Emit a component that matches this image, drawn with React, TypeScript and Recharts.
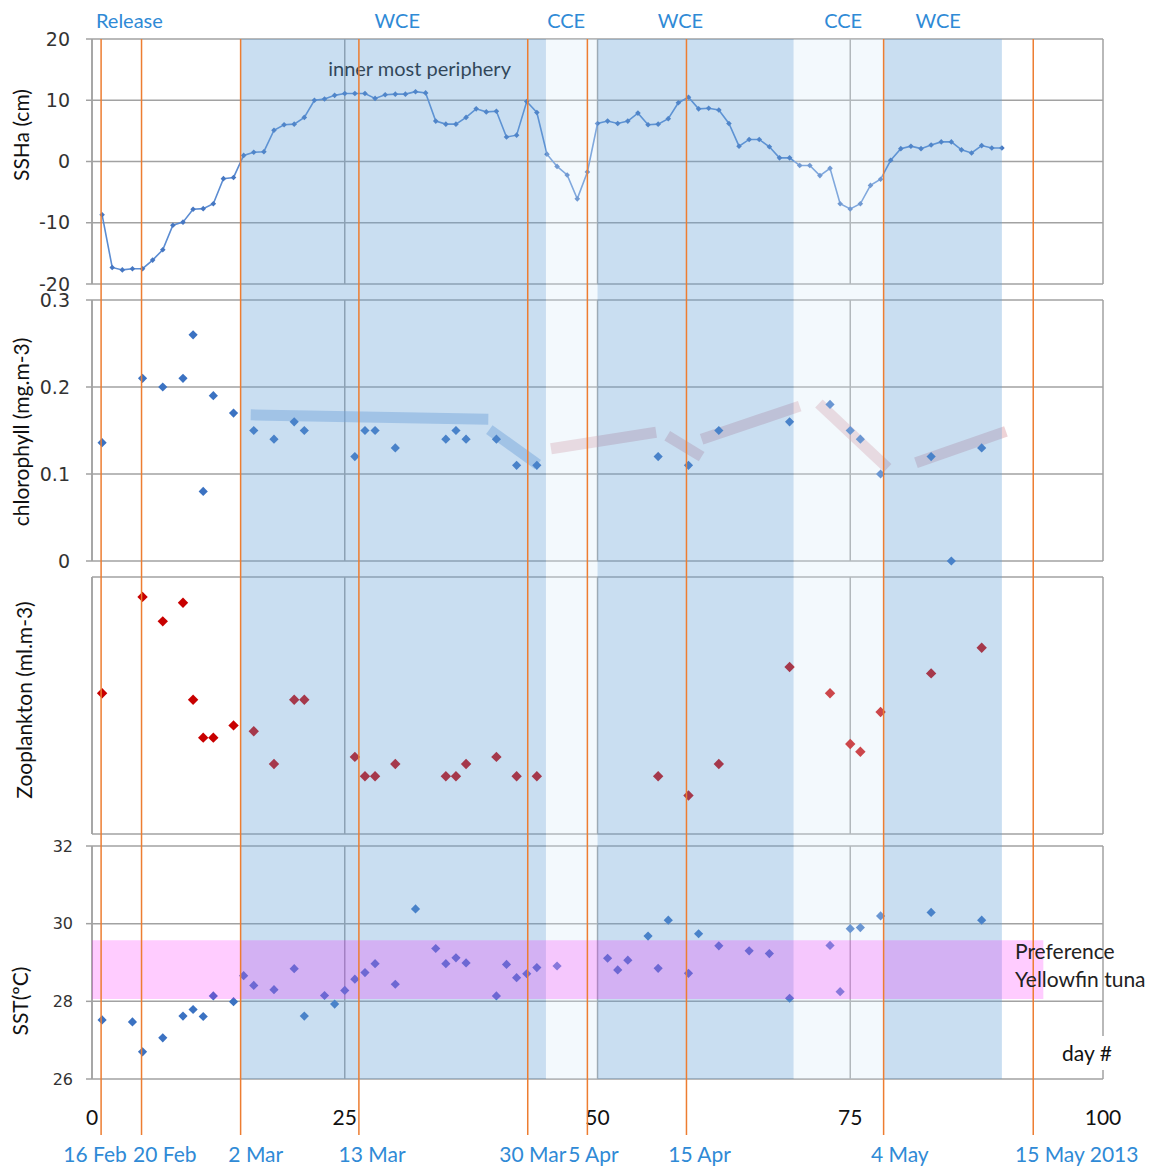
import React from 'react';
import {
  CartesianGrid,
  ComposedChart,
  Line,
  ReferenceArea,
  ReferenceDot,
  ReferenceLine,
  Scatter,
  ScatterChart,
  XAxis,
  YAxis,
} from 'recharts';

const WIDTH = 1151;
const HEIGHT = 1168;
const AXIS_W = 92;
const RIGHT = 48;

const DAY_DOMAIN: [number, number] = [0, 100];
const dayTicks = [0, 25, 50, 75, 100];

// SSHa (cm), one reading a day starting at day 1
const sshaFirstDay = 1;
const sshaValues = [
  -8.7, -17.3, -17.7, -17.5, -17.5, -16.1, -14.4, -10.4, -9.9, -7.8,
  -7.7, -6.9, -2.8, -2.6, 1.0, 1.5, 1.6, 5.1, 6.0, 6.1,
  7.2, 10.0, 10.2, 10.8, 11.1, 11.1, 11.1, 10.3, 10.9, 11.0,
  11.0, 11.4, 11.2, 6.6, 6.1, 6.1, 7.2, 8.6, 8.1, 8.2,
  4.0, 4.3, 9.8, 8.0, 1.2, -0.8, -2.2, -6.1, -1.7, 6.2,
  6.6, 6.2, 6.6, 7.9, 6.0, 6.1, 7.0, 9.6, 10.5, 8.6,
  8.7, 8.4, 6.2, 2.5, 3.6, 3.6, 2.4, 0.6, 0.6, -0.65,
  -0.65, -2.3, -1.1, -6.9, -7.75, -6.9, -3.9, -2.9, 0.2, 2.1,
  2.5, 2.1, 2.7, 3.2, 3.2, 1.9, 1.4, 2.6, 2.2, 2.2,
];

// chlorophyll (mg.m-3)
const chlDays = [1, 5, 7, 9, 10, 11, 12, 14, 16, 18, 20, 21, 26, 27, 28, 30, 35, 36, 37, 40, 42, 44, 56, 59, 62, 69, 73, 75, 76, 78, 83, 85, 88];
const chlValues = [0.136, 0.21, 0.2, 0.21, 0.26, 0.08, 0.19, 0.17, 0.15, 0.14, 0.16, 0.15, 0.12, 0.15, 0.15, 0.13, 0.14, 0.15, 0.14, 0.14, 0.11, 0.11, 0.12, 0.11, 0.15, 0.16, 0.18, 0.15, 0.14, 0.1, 0.12, 0.0, 0.13];

// trend bars drawn over the chlorophyll points
const chlTrends = [
  { x1: 15.7, y1: 0.168, x2: 39.2, y2: 0.163, tone: 'blue' },
  { x1: 39.3, y1: 0.151, x2: 44.1, y2: 0.111, tone: 'blue' },
  { x1: 45.4, y1: 0.129, x2: 55.8, y2: 0.148, tone: 'pink' },
  { x1: 56.9, y1: 0.144, x2: 60.3, y2: 0.12, tone: 'pink' },
  { x1: 60.3, y1: 0.14, x2: 70.0, y2: 0.178, tone: 'pink' },
  { x1: 71.9, y1: 0.181, x2: 78.7, y2: 0.107, tone: 'pink' },
  { x1: 81.5, y1: 0.113, x2: 90.4, y2: 0.149, tone: 'pink' },
];

// zooplankton (no scale printed, plotted on 0..4 grid units)
const zooDays = [1, 5, 7, 9, 10, 11, 12, 14, 16, 18, 20, 21, 26, 27, 28, 30, 35, 36, 37, 40, 42, 44, 56, 59, 62, 69, 73, 75, 76, 78, 83, 88];
const zooValues = [2.19, 3.69, 3.31, 3.6, 2.09, 1.5, 1.5, 1.69, 1.6, 1.09, 2.09, 2.09, 1.2, 0.9, 0.9, 1.09, 0.9, 0.9, 1.09, 1.2, 0.9, 0.9, 0.9, 0.6, 1.09, 2.6, 2.19, 1.4, 1.28, 1.9, 2.5, 2.9];

// SST (ºC)
const sstDays = [1, 4, 5, 7, 9, 10, 11, 12, 14, 15, 16, 18, 20, 21, 23, 24, 25, 26, 27, 28, 30, 32, 34, 35, 36, 37, 40, 41, 42, 43, 44, 46, 51, 52, 53, 55, 56, 57, 59, 60, 62, 65, 67, 69, 73, 74, 75, 76, 78, 83, 88];
const sstValues = [
  27.52, 27.47, 26.7, 27.06, 27.62, 27.79, 27.61, 28.14, 27.99,
  28.66, 28.41, 28.3, 28.84, 27.62,
  28.15, 27.93, 28.28, 28.57, 28.74, 28.97,
  28.44, 30.38, 29.36, 28.97, 29.12, 28.99,
  28.14, 28.95, 28.61, 28.71, 28.87, 28.91,
  29.11, 28.81, 29.06, 29.68, 28.85, 30.09,
  28.72, 29.74, 29.43, 29.3, 29.23, 28.08,
  29.44, 28.25, 29.87, 29.9, 30.2,
  30.29, 30.09,
];
const tunaRange = [28.06, 29.57];
const tunaRangeEndDay = 94.1;

// eddy periods and events
const eddySpans = [
  { from: 14.7, to: 44.9, kind: 'WCE' },
  { from: 44.9, to: 50.0, kind: 'CCE' },
  { from: 50.0, to: 69.4, kind: 'WCE' },
  { from: 69.4, to: 78.3, kind: 'CCE' },
  { from: 78.3, to: 90.0, kind: 'WCE' },
];
const eddyLabels = ['Release', 'WCE', 'CCE', 'WCE', 'CCE', 'WCE'];
const eddyLabelDays = [3.7, 30.2, 46.9, 58.2, 74.3, 83.7];
const eventDays = [0.9, 4.9, 14.7, 26.4, 43.1, 49.0, 58.8, 78.3, 93.1];
const dateLabels = ['16 Feb', '20 Feb', '2 Mar', '13 Mar', '30 Mar', '5 Apr', '15 Apr', '4 May', '15 May 2013'];
const dateLabelDays = [0.3, 7.2, 16.2, 27.7, 43.6, 49.6, 60.1, 79.9, 97.4];

const sshaData = sshaValues.map((v, i) => ({ day: sshaFirstDay + i, v }));
const chlData = chlDays.map((day, i) => ({ day, v: chlValues[i] }));
const zooData = zooDays.map((day, i) => ({ day, v: zooValues[i] }));
const sstData = sstDays.map((day, i) => ({ day, v: sstValues[i] }));
const eventData = eventDays.map((day) => ({ day, v: 0.5 }));

const GRID = '#a2a2a2';
const LABEL_BLUE = '#2f8ad6';
const FONT = 'Lato, "Open Sans", sans-serif';
const TICK_FONT = '"DejaVu Sans", Verdana, sans-serif';

const diamond = (r: number, fill: string) => (props: any) => {
  const { cx, cy } = props;
  if (cx == null || cy == null) return <g />;
  return <path d={`M${cx},${cy - r}L${cx + r},${cy}L${cx},${cy + r}L${cx - r},${cy}Z`} fill={fill} />;
};

const noMark = () => <g />;

const yTick = (size: number) => ({ fill: '#333', fontSize: size, fontFamily: TICK_FONT });

function SideLabel({ text, x, y }: { text: string; x: number; y: number }) {
  return (
    <div
      style={{
        position: 'absolute',
        left: x,
        top: y,
        transform: 'translate(-50%, -50%) rotate(-90deg)',
        whiteSpace: 'nowrap',
        font: `21px ${FONT}`,
        color: '#111',
      }}
    >
      {text}
    </div>
  );
}

const layer = (top: number): React.CSSProperties => ({ position: 'absolute', left: 0, top });

export default function App() {
  return (
    <div style={{ position: 'absolute', left: 0, top: 0, width: WIDTH, height: HEIGHT, background: '#fff' }}>
      {/* SSHa */}
      <div style={layer(29)}>
        <ComposedChart width={WIDTH} height={265} data={sshaData} margin={{ top: 10, right: RIGHT, bottom: 10, left: 0 }}>
          <CartesianGrid stroke={GRID} strokeWidth={1.5} />
          <XAxis type="number" dataKey="day" domain={DAY_DOMAIN} ticks={dayTicks} hide />
          <YAxis
            type="number"
            domain={[-20, 20]}
            ticks={[-20, -10, 0, 10, 20]}
            interval={0}
            width={AXIS_W}
            axisLine={{ stroke: GRID, strokeWidth: 1.5 }}
            tickLine={{ stroke: GRID, strokeWidth: 1.5 }}
            tickSize={6}
            tickMargin={16}
            tick={yTick(19)}
          />
          <ReferenceDot
            x={32.4}
            y={15.2}
            r={1}
            fill="none"
            stroke="none"
            label={{ value: 'inner most periphery', position: 'center', fill: '#151515', fontSize: 20, fontFamily: FONT }}
          />
          <Line
            type="linear"
            dataKey="v"
            stroke="#5b8cd2"
            strokeWidth={1.6}
            dot={diamond(2.8, '#4677c2')}
            isAnimationActive={false}
          />
        </ComposedChart>
      </div>

      {/* chlorophyll */}
      <div style={layer(290)}>
        <ScatterChart width={WIDTH} height={281} margin={{ top: 10, right: RIGHT, bottom: 10, left: 0 }}>
          <CartesianGrid stroke={GRID} strokeWidth={1.5} />
          <XAxis type="number" dataKey="day" domain={DAY_DOMAIN} ticks={dayTicks} hide />
          <YAxis
            type="number"
            dataKey="v"
            domain={[0, 0.3]}
            ticks={[0, 0.1, 0.2, 0.3]}
            interval={0}
            width={AXIS_W}
            axisLine={{ stroke: GRID, strokeWidth: 1.5 }}
            tickLine={{ stroke: GRID, strokeWidth: 1.5 }}
            tickSize={6}
            tickMargin={16}
            tick={yTick(19)}
          />
          {chlTrends.map((t, i) => (
            <ReferenceLine
              key={i}
              segment={[{ x: t.x1, y: t.y1 }, { x: t.x2, y: t.y2 }]}
              stroke={t.tone === 'blue' ? 'rgb(120,165,220)' : 'rgb(215,150,160)'}
              strokeOpacity={t.tone === 'blue' ? 0.45 : 0.42}
              strokeWidth={11}
              ifOverflow="visible"
            />
          ))}
          <Scatter data={chlData} shape={diamond(4.6, '#3b72c2')} isAnimationActive={false} />
        </ScatterChart>
      </div>

      {/* zooplankton */}
      <div style={layer(567)}>
        <ScatterChart width={WIDTH} height={277} margin={{ top: 10, right: RIGHT, bottom: 10, left: 0 }}>
          <CartesianGrid stroke={GRID} strokeWidth={1.5} />
          <XAxis type="number" dataKey="day" domain={DAY_DOMAIN} ticks={dayTicks} hide />
          <YAxis
            type="number"
            dataKey="v"
            domain={[0, 4]}
            ticks={[0, 1, 2, 3, 4]}
            width={AXIS_W}
            axisLine={{ stroke: GRID, strokeWidth: 1.5 }}
            tickLine={false}
            tick={false}
          />
          <Scatter data={zooData} shape={diamond(5.2, '#c80000')} isAnimationActive={false} />
        </ScatterChart>
      </div>

      {/* SST */}
      <div style={layer(836)}>
        <ScatterChart width={WIDTH} height={332} margin={{ top: 10, right: RIGHT, bottom: 39, left: 0 }}>
          <CartesianGrid stroke={GRID} strokeWidth={1.5} />
          <XAxis
            type="number"
            dataKey="day"
            domain={DAY_DOMAIN}
            ticks={dayTicks}
            height={50}
            axisLine={false}
            tickLine={false}
            tickSize={0}
            tickMargin={0}
            interval={0}
            tick={(p: any) => (
              <text x={p.x} y={p.y + 37} textAnchor="middle" dominantBaseline="central" fill="#111" fontSize={21} fontFamily={FONT}>
                {p.payload.value}
              </text>
            )}
          />
          <YAxis
            type="number"
            dataKey="v"
            domain={[26, 32]}
            ticks={[26, 28, 30, 32]}
            interval={0}
            width={AXIS_W}
            axisLine={{ stroke: GRID, strokeWidth: 1.5 }}
            tickLine={{ stroke: GRID, strokeWidth: 1.5 }}
            tickSize={6}
            tickMargin={13}
            tick={yTick(16)}
          />
          <Scatter data={sstData} shape={diamond(4.6, '#3b72c2')} isAnimationActive={false} />
        </ScatterChart>
      </div>

      {/* eddy shading laid over all panels */}
      <div style={layer(0)}>
        <ScatterChart width={WIDTH} height={HEIGHT} margin={{ top: 39, right: RIGHT, bottom: 89, left: AXIS_W }}>
          <XAxis type="number" dataKey="day" domain={DAY_DOMAIN} hide />
          <YAxis type="number" dataKey="v" domain={[0, 1]} hide />
          {eddySpans.map((s, i) => (
            <ReferenceArea
              key={i}
              x1={s.from}
              x2={s.to}
              stroke="none"
              fill={s.kind === 'WCE' ? 'rgb(100,160,215)' : 'rgb(215,235,248)'}
              fillOpacity={s.kind === 'WCE' ? 0.35 : 0.3}
              ifOverflow="visible"
            />
          ))}
          <Scatter data={eventData} shape={noMark} isAnimationActive={false} />
        </ScatterChart>
      </div>

      {/* yellowfin tuna preference band over the SST panel */}
      <div style={layer(836)}>
        <ScatterChart width={WIDTH} height={332} margin={{ top: 10, right: RIGHT, bottom: 89, left: AXIS_W }}>
          <XAxis type="number" dataKey="day" domain={DAY_DOMAIN} hide />
          <YAxis type="number" dataKey="v" domain={[26, 32]} hide />
          <ReferenceArea
            x1={0}
            x2={tunaRangeEndDay}
            y1={tunaRange[0]}
            y2={tunaRange[1]}
            stroke="none"
            fill="#ff00ff"
            fillOpacity={0.2}
            ifOverflow="visible"
          />
          <Scatter data={sstData} shape={noMark} isAnimationActive={false} />
        </ScatterChart>
      </div>

      {/* event lines, eddy names and dates */}
      <div style={layer(0)}>
        <ScatterChart width={WIDTH} height={HEIGHT} margin={{ top: 0, right: RIGHT, bottom: 0, left: AXIS_W }}>
          <XAxis
            xAxisId="top"
            orientation="top"
            type="number"
            dataKey="day"
            domain={DAY_DOMAIN}
            ticks={eddyLabelDays}
            interval={0}
            height={39}
            axisLine={false}
            tickLine={false}
            tickSize={0}
            tickMargin={0}
            tick={(p: any) => (
              <text x={p.x} y={p.y - 19} textAnchor="middle" dominantBaseline="central" fill={LABEL_BLUE} fontSize={20} fontFamily={FONT}>
                {eddyLabels[eddyLabelDays.indexOf(p.payload.value)]}
              </text>
            )}
          />
          <XAxis
            xAxisId="bottom"
            orientation="bottom"
            type="number"
            dataKey="day"
            domain={DAY_DOMAIN}
            ticks={dateLabelDays}
            interval={0}
            height={33}
            axisLine={false}
            tickLine={false}
            tickSize={0}
            tickMargin={0}
            tick={(p: any) => (
              <text x={p.x} y={p.y + 18} textAnchor="middle" dominantBaseline="central" fill={LABEL_BLUE} fontSize={21} fontFamily={FONT}>
                {dateLabels[dateLabelDays.indexOf(p.payload.value)]}
              </text>
            )}
          />
          <YAxis type="number" dataKey="v" domain={[0, 1]} hide />
          {eventDays.map((d) => (
            <ReferenceLine key={d} xAxisId="top" x={d} stroke="#ed7d31" strokeWidth={1.5} />
          ))}
          <Scatter xAxisId="top" data={eventData} shape={noMark} isAnimationActive={false} />
          <Scatter xAxisId="bottom" data={eventData} shape={noMark} isAnimationActive={false} />
        </ScatterChart>
      </div>

      <SideLabel text="SSHa (cm)" x={20} y={135} />
      <SideLabel text="chlorophyll (mg.m-3)" x={20} y={432} />
      <SideLabel text="Zooplankton (ml.m-3)" x={23} y={700} />
      <SideLabel text="SST(ºC)" x={19} y={1001} />

      <div style={{ position: 'absolute', left: 1015, top: 937, font: `21px ${FONT}`, lineHeight: '28px', color: '#222', whiteSpace: 'nowrap' }}>
        Preference
        <br />
        Yellowfin tuna
      </div>
      <div style={{ position: 'absolute', left: 1058, top: 1036, padding: '2px 4px', background: '#fff', font: `21px ${FONT}`, lineHeight: '30px', color: '#111' }}>
        day #
      </div>
    </div>
  );
}
